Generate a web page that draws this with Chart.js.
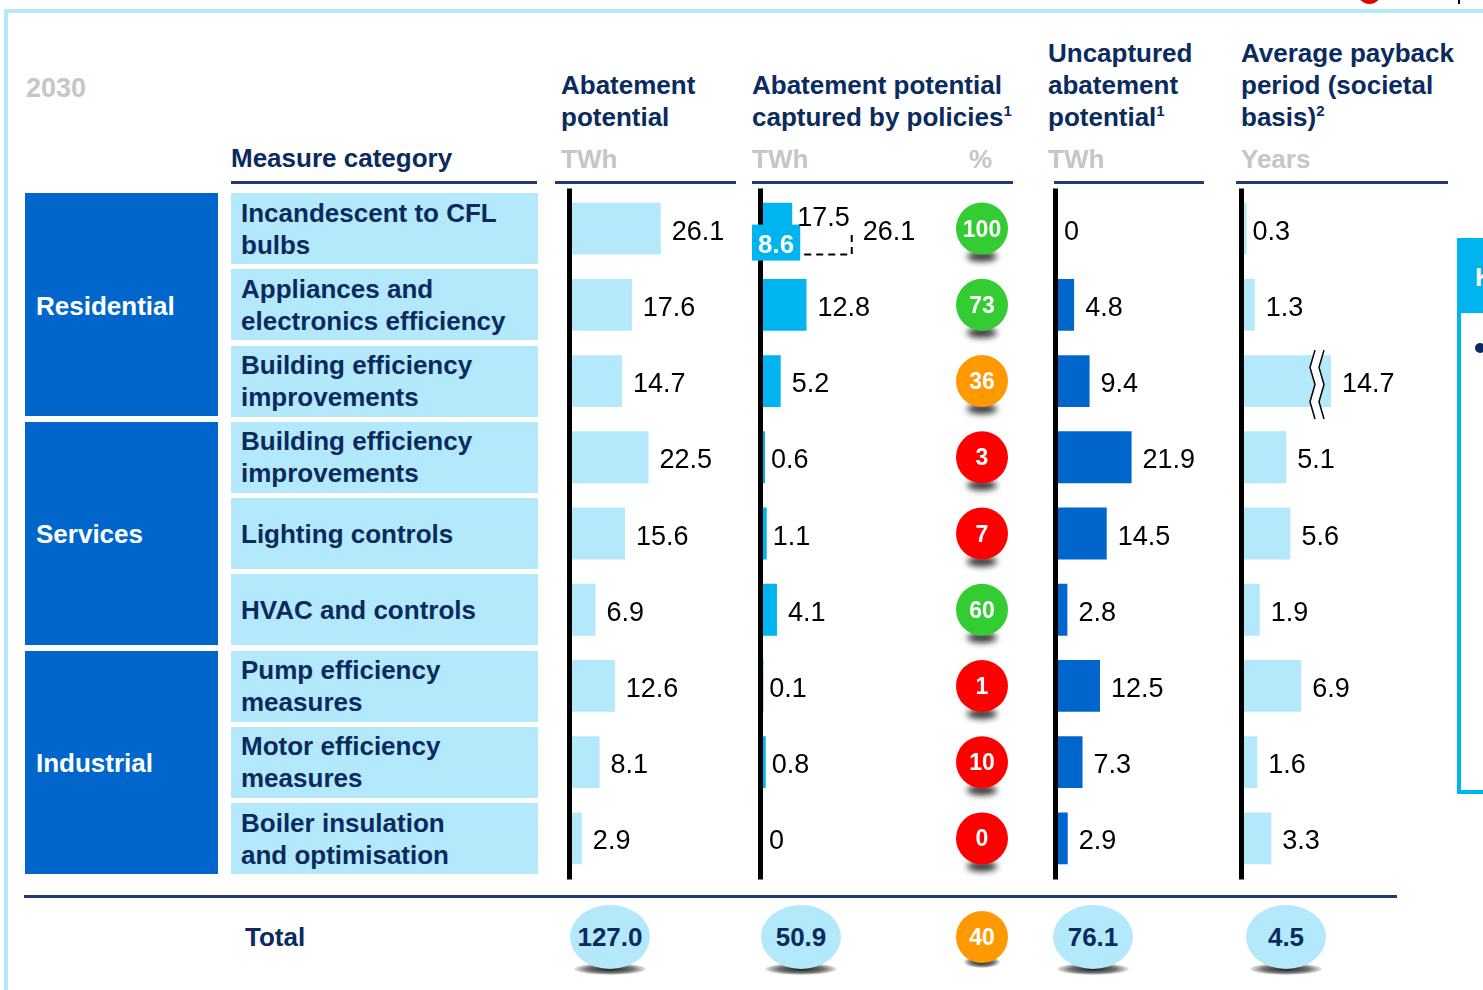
<!DOCTYPE html>
<html>
<head>
<meta charset="utf-8">
<title>Abatement potential 2030</title>
<script src="https://cdn.jsdelivr.net/npm/chart.js@4.4.1/dist/chart.umd.min.js"></script>
<style>
  body { margin: 0; width: 1483px; height: 990px; overflow: hidden; background: #fff; position: relative;
         font-family: "Liberation Sans", Arial, sans-serif; }
  .abs { position: absolute; }
  .frame { left: 4px; top: 9px; width: 1500px; height: 1000px; border-top: 4px solid #b3e9fb; border-left: 4px solid #b3e9fb; }
  .hdr { font-size: 26px; font-weight: bold; color: #0b2a5e; line-height: 32px; white-space: nowrap; }
  .hdr sup { font-size: 15px; line-height: 1; vertical-align: top; position: relative; top: 2px; }
  .unit { font-size: 26px; font-weight: bold; color: #c6c6c6; line-height: 32px; }
  .rule { height: 3px; background: #1f3c70; }
  .group { background: #0066cc; color: #fff; font-size: 26px; font-weight: bold; display: flex; align-items: center;
           padding: 3px 0 0 11px; box-sizing: border-box; width: 193px; height: 223px; left: 25px; }
  .measure { background: #b3e9fb; color: #0b2a5e; font-size: 26px; font-weight: bold; line-height: 32px; display: flex;
             align-items: center; padding-left: 10px; box-sizing: border-box; white-space: pre-line; left: 231px; width: 307px; height: 71px; }
  .col { top: 182px; }
  .badge { width: 80px; height: 64px; border-radius: 50%; background: #b3e9fb; color: #0b2a5e; font-size: 26px; font-weight: bold;
           display: flex; align-items: center; justify-content: center; z-index: 2; }
  .badge.pct { width: 52px; height: 52px; color: #fff; font-size: 23px; }
  .shadow { height: 12px; border-radius: 50%; z-index: 1;
            background: radial-gradient(ellipse at center, rgba(0,0,0,0.9) 0%, rgba(0,0,0,0.55) 45%, rgba(0,0,0,0) 75%); }
</style>
</head>
<body>
<div class="abs frame"></div>
<div class="abs" style="left:1357px;top:-21px;width:25px;height:25px;border-radius:50%;background:#e00000"></div>
<div class="abs" style="left:1458px;top:0;width:2px;height:4px;background:#000"></div>

<div class="abs unit" style="left:26px;top:72px;font-size:27px">2030</div>
<div class="abs hdr" style="left:231px;top:142px">Measure category</div>
<div class="abs hdr" style="left:561px;top:69px">Abatement<br>potential</div>
<div class="abs hdr" style="left:752px;top:69px">Abatement potential<br>captured by policies<sup>1</sup></div>
<div class="abs hdr" style="left:1048px;top:37px">Uncaptured<br>abatement<br>potential<sup>1</sup></div>
<div class="abs hdr" style="left:1241px;top:37px">Average payback<br>period (societal<br>basis)<sup>2</sup></div>

<div class="abs unit" style="left:561px;top:143px">TWh</div>
<div class="abs unit" style="left:752px;top:143px">TWh</div>
<div class="abs unit" style="left:969px;top:143px">%</div>
<div class="abs unit" style="left:1048px;top:143px">TWh</div>
<div class="abs unit" style="left:1241px;top:143px">Years</div>

<div class="abs rule" style="left:231px;top:181px;width:306px"></div>
<div class="abs rule" style="left:555px;top:181px;width:181px"></div>
<div class="abs rule" style="left:752px;top:181px;width:261px"></div>
<div class="abs rule" style="left:1054px;top:181px;width:150px"></div>
<div class="abs rule" style="left:1236px;top:181px;width:212px"></div>

<div id="rows"></div>

<div class="abs col"><canvas id="abatementChart" width="186" height="703"></canvas></div>
<div class="abs col"><canvas id="capturedChart" width="186" height="703"></canvas></div>
<div class="abs col"><canvas id="pctChart" width="64" height="703"></canvas></div>
<div class="abs col"><canvas id="uncapturedChart" width="184" height="703"></canvas></div>
<div class="abs col"><canvas id="paybackChart" width="177" height="703"></canvas></div>

<div class="abs rule" style="left:24px;top:895px;width:1373px"></div>
<div class="abs hdr" style="left:245px;top:921px">Total</div>
<div id="totals"></div>

<div class="abs" style="left:1457px;top:238px;width:60px;height:548px;border:4px solid #00b4f0;box-sizing:content-box">
  <div style="background:#00b4f0;height:71px;color:#fff;font-size:26px;font-weight:bold;padding-left:14px;line-height:71px">K</div>
  <div style="position:absolute;left:14px;top:101px;width:10px;height:10px;border-radius:50%;background:#0b2a5e"></div>
</div>

<script>
const groups = ['Residential', 'Services', 'Industrial'];
const measures = [
    'Incandescent to CFL\nbulbs',
    'Appliances and\nelectronics efficiency',
    'Building efficiency\nimprovements',
    'Building efficiency\nimprovements',
    'Lighting controls',
    'HVAC and controls',
    'Pump efficiency\nmeasures',
    'Motor efficiency\nmeasures',
    'Boiler insulation\nand optimisation'
];

// TWh
const abatement = [26.1, 17.6, 14.7, 22.5, 15.6, 6.9, 12.6, 8.1, 2.9];
// captured by policies: first row is split into a solid and a dashed part
const capturedSolid = [8.6, 12.8, 5.2, 0.6, 1.1, 4.1, 0.1, 0.8, 0];
const capturedDashed = [17.5, 0, 0, 0, 0, 0, 0, 0, 0];
const capturedPct = [100, 73, 36, 3, 7, 60, 1, 10, 0];
const uncaptured = [0, 4.8, 9.4, 21.9, 14.5, 2.8, 12.5, 7.3, 2.9];
// years
const payback = [0.3, 1.3, 14.7, 5.1, 5.6, 1.9, 6.9, 1.6, 3.3];

const totalValues = [127.0, 50.9, 76.1, 4.5];
const totalPct = 40;

const ROW_TOP = 193, ROW_PITCH = 76.25;
const FONT = '"Liberation Sans", Arial, sans-serif';

function fmt(v) {
    return v === 0 ? '0' : v.toFixed(1);
}

function pctColor(p) {
    return p >= 50 ? '#33cc33' : p >= 30 ? '#ff9900' : '#ff0000';
}

// left side: group boxes and measure boxes
document.getElementById('rows').innerHTML =
    groups.map((g, i) => `<div class="abs group" style="top:${ROW_TOP + i * 3 * ROW_PITCH}px">${g}</div>`).join('') +
    measures.map((m, i) => `<div class="abs measure" style="top:${ROW_TOP + i * ROW_PITCH}px">${m}</div>`).join('');

// totals row
const totalCenters = [610, 801, 1093, 1286];
document.getElementById('totals').innerHTML =
    totalValues.map((v, i) => `
        <div class="abs shadow" style="left:${totalCenters[i] - 36}px;top:963px;width:72px"></div>
        <div class="abs badge" style="left:${totalCenters[i] - 40}px;top:905px">${v.toFixed(1)}</div>`).join('') + `
        <div class="abs shadow" style="left:964px;top:956px;width:36px"></div>
        <div class="abs badge pct" style="left:956px;top:911px;background:${pctColor(totalPct)}">${totalPct}</div>`;

const axisLine = {
    id: 'axisLine',
    afterDatasetsDraw(chart) {
        const { ctx, chartArea } = chart;
        const x0 = chart.scales.x.getPixelForValue(0);
        ctx.save();
        ctx.fillStyle = '#000';
        ctx.fillRect(x0 - 5, chartArea.top - 2, 5, chartArea.height + 5);
        ctx.restore();
    }
};

const valueLabels = {
    id: 'valueLabels',
    afterDatasetsDraw(chart) {
        const { ctx, chartArea } = chart;
        const xs = chart.scales.x;
        const x0 = xs.getPixelForValue(0);
        ctx.save();
        ctx.font = `27px ${FONT}`;
        ctx.fillStyle = '#000';
        ctx.textBaseline = 'alphabetic';
        chart.getDatasetMeta(0).data.forEach((bar, i) => {
            const total = chart.data.datasets.reduce((s, ds) => s + ds.data[i], 0);
            const end = Math.min(xs.getPixelForValue(total), chartArea.right);
            const gap = end - x0 < 8 ? 6 : 11;
            ctx.fillText(fmt(total), end + gap, bar.y + 11);
        });
        ctx.restore();
    }
};

// dashed remainder + labelled solid part on the first captured row
const capturedSplit = {
    id: 'capturedSplit',
    afterDatasetsDraw(chart) {
        const { ctx } = chart;
        const x0 = chart.scales.x.getPixelForValue(0);
        const solid = chart.getDatasetMeta(0).data[0];
        const dashed = chart.getDatasetMeta(1).data[0];
        const bottom = dashed.y + dashed.height / 2;
        ctx.save();
        ctx.strokeStyle = '#000';
        ctx.lineWidth = 2;
        ctx.setLineDash([7, 5]);
        ctx.beginPath();
        ctx.moveTo(dashed.base, bottom);
        ctx.lineTo(dashed.x, bottom);
        ctx.lineTo(dashed.x, solid.y + 4);
        ctx.stroke();
        ctx.setLineDash([]);

        const bx = x0 - 11, bw = solid.x + 8 - bx;
        ctx.fillStyle = '#00b4f0';
        ctx.fillRect(bx, solid.y - 4, bw, 36);
        ctx.fillStyle = '#fff';
        ctx.font = `bold 26px ${FONT}`;
        ctx.textAlign = 'center';
        ctx.fillText(fmt(capturedSolid[0]), bx + bw / 2, solid.y + 24);

        ctx.fillStyle = '#000';
        ctx.font = `27px ${FONT}`;
        ctx.textAlign = 'left';
        ctx.fillText(fmt(capturedDashed[0]), solid.x + 5, solid.y - 3);
        ctx.restore();
    }
};

// broken bar for values beyond the axis maximum
const axisBreak = {
    id: 'axisBreak',
    afterDatasetsDraw(chart) {
        const { ctx, chartArea } = chart;
        const max = chart.scales.x.max;
        chart.getDatasetMeta(0).data.forEach((bar, i) => {
            if (chart.data.datasets[0].data[i] <= max) return;
            const top = bar.y - bar.height / 2 - 5;
            const h = bar.height + 17;
            const offs = [3, -2, 3, -2, 3];
            const zig = (x) => offs.map((o, k) => [x + o, top + k * h / 4]);
            const a = zig(chartArea.right - 19), b = zig(chartArea.right - 10);
            ctx.save();
            ctx.fillStyle = '#fff';
            ctx.beginPath();
            a.forEach(([x, y], k) => k ? ctx.lineTo(x, y) : ctx.moveTo(x, y));
            b.slice().reverse().forEach(([x, y]) => ctx.lineTo(x, y));
            ctx.closePath();
            ctx.fill();
            ctx.strokeStyle = '#000';
            ctx.lineWidth = 1.5;
            [a, b].forEach(line => {
                ctx.beginPath();
                line.forEach(([x, y], k) => k ? ctx.lineTo(x, y) : ctx.moveTo(x, y));
                ctx.stroke();
            });
            ctx.restore();
        });
    }
};

function barColumn(id, left, datasets, opts) {
    document.getElementById(id).parentElement.style.left = left + 'px';
    return new Chart(document.getElementById(id), {
        type: 'bar',
        data: {
            labels: measures,
            datasets: datasets.map(ds => Object.assign({ barPercentage: 1, categoryPercentage: 0.68, borderWidth: 0 }, ds))
        },
        options: {
            indexAxis: 'y',
            responsive: false,
            animation: false,
            events: [],
            layout: { padding: { left: 16, right: opts.padRight || 0, top: 8.5, bottom: 8.5 } },
            scales: {
                x: { display: false, min: 0, max: opts.max, stacked: true },
                y: { display: false, stacked: true }
            },
            plugins: { legend: { display: false }, tooltip: { enabled: false } }
        },
        plugins: [axisLine, valueLabels].concat(opts.extra || [])
    });
}

barColumn('abatementChart', 556, [{ data: abatement, backgroundColor: '#b3e9fb' }], { max: 50 });

barColumn('capturedChart', 747, [
    { data: capturedSolid, backgroundColor: '#00b4f0' },
    { data: capturedDashed, backgroundColor: 'rgba(0,0,0,0)' }
], { max: 50, extra: [capturedSplit] });

barColumn('uncapturedChart', 1042, [{ data: uncaptured, backgroundColor: '#0066cc' }], { max: 50 });

barColumn('paybackChart', 1228, [{ data: payback, backgroundColor: '#b3e9fb' }], { max: 10.5, padRight: 74, extra: [axisBreak] });

// share captured, as coloured circles
const pctBadges = {
    id: 'pctBadges',
    beforeDatasetsDraw(chart) {
        const { ctx } = chart;
        ctx.save();
        ctx.filter = 'blur(3px)';
        ctx.fillStyle = 'rgba(0,0,0,0.8)';
        chart.getDatasetMeta(0).data.forEach(pt => {
            ctx.beginPath();
            ctx.ellipse(pt.x, pt.y + 28, 15, 5, 0, 0, Math.PI * 2);
            ctx.fill();
        });
        ctx.restore();
    },
    afterDatasetsDraw(chart) {
        const { ctx } = chart;
        ctx.save();
        ctx.fillStyle = '#fff';
        ctx.font = `bold 23px ${FONT}`;
        ctx.textAlign = 'center';
        ctx.textBaseline = 'alphabetic';
        chart.getDatasetMeta(0).data.forEach((pt, i) => {
            ctx.fillText(String(capturedPct[i]), pt.x, pt.y + 8);
        });
        ctx.restore();
    }
};

document.getElementById('pctChart').parentElement.style.left = '950px';
new Chart(document.getElementById('pctChart'), {
    type: 'scatter',
    data: {
        datasets: [{
            data: capturedPct.map((p, i) => ({ x: 0, y: i })),
            pointRadius: 26,
            pointHoverRadius: 26,
            borderWidth: 0,
            backgroundColor: ctx => pctColor(capturedPct[ctx.dataIndex]),
            clip: false
        }]
    },
    options: {
        responsive: false,
        animation: false,
        events: [],
        layout: { autoPadding: false, padding: { left: 0, right: 0, top: 8.5, bottom: 8.5 } },
        scales: {
            x: { type: 'linear', min: -1, max: 1, display: false },
            y: { type: 'category', labels: measures, offset: true, display: false }
        },
        plugins: { legend: { display: false }, tooltip: { enabled: false } }
    },
    plugins: [pctBadges]
});
</script>
</body>
</html>
